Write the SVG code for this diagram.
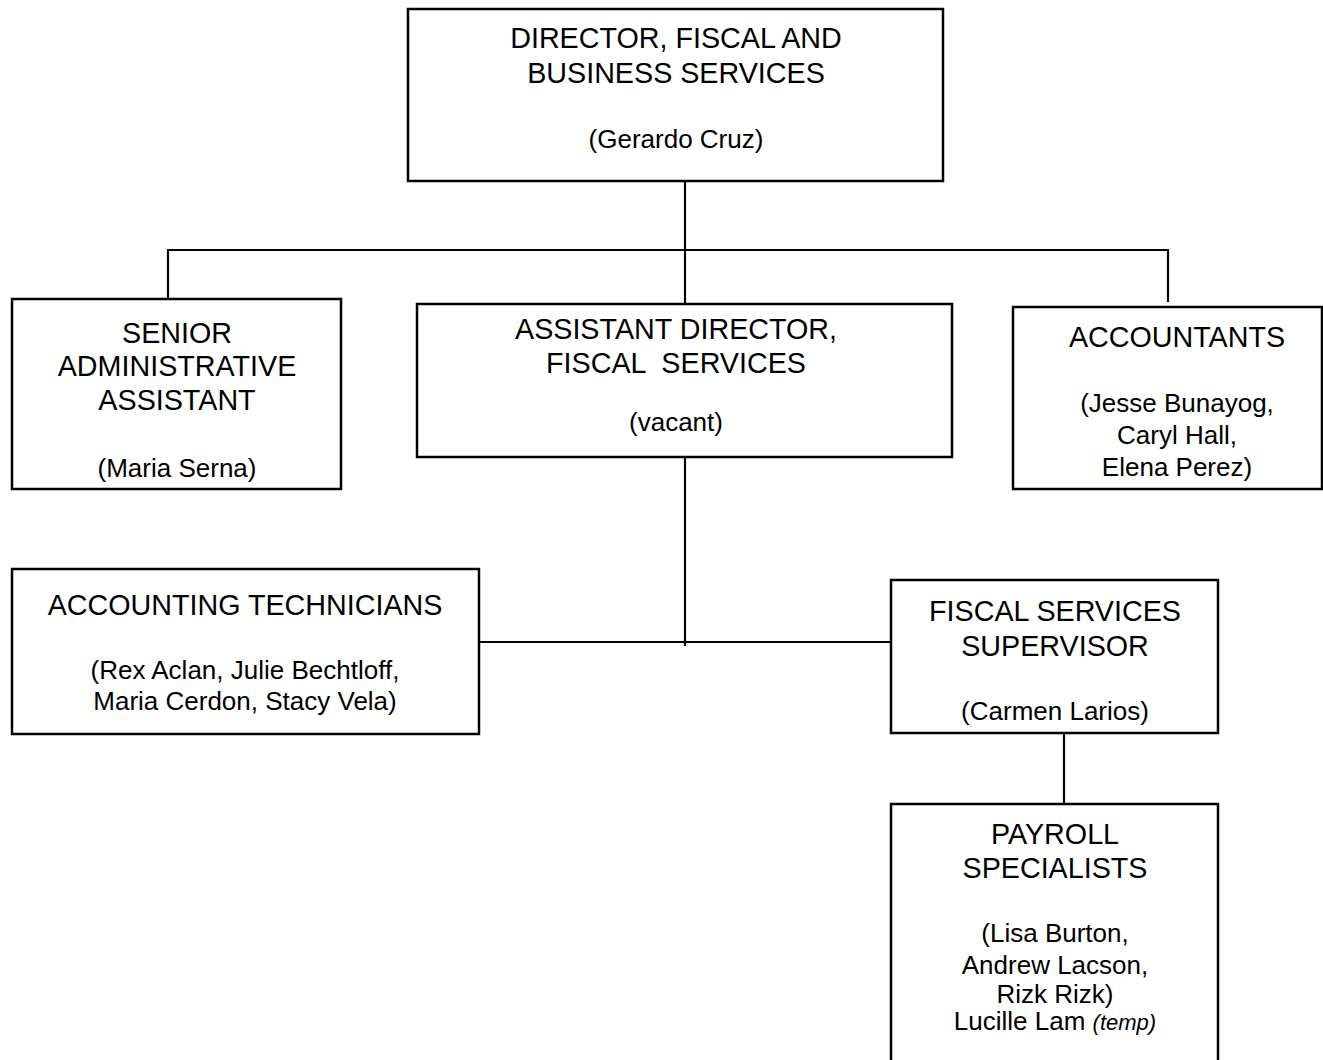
<svg xmlns="http://www.w3.org/2000/svg" width="1323" height="1060" viewBox="0 0 1323 1060">
<style>
.box{fill:#fff;stroke:#000;stroke-width:2.5}
.ln{stroke:#000;stroke-width:2.2;fill:none}
text{font-family:"Liberation Sans",Arial,sans-serif;fill:#000;text-anchor:middle}
.t{font-size:28.7px}
.n{font-size:26px}
.i{font-style:italic;font-size:22px}
</style>
<rect width="1323" height="1060" fill="#fff"/>
<g id="connectors">
<line class="ln" x1="685" y1="181" x2="685" y2="304"/>
<line class="ln" x1="167" y1="250" x2="1169" y2="250"/>
<line class="ln" x1="168" y1="250" x2="168" y2="299"/>
<line class="ln" x1="1168" y1="250" x2="1168" y2="302"/>
<line class="ln" x1="685" y1="457" x2="685" y2="646"/>
<line class="ln" x1="479" y1="642" x2="891" y2="642"/>
<line class="ln" x1="1064" y1="733" x2="1064" y2="804"/>
</g>
<g id="director">
<rect class="box" x="408" y="9" width="535" height="172"/>
<text class="t" x="676" y="48">DIRECTOR, FISCAL AND</text>
<text class="t" x="676" y="83">BUSINESS SERVICES</text>
<text class="n" x="676" y="148">(Gerardo Cruz)</text>
</g>
<g id="senior-admin">
<rect class="box" x="12" y="299" width="329" height="190"/>
<text class="t" x="177" y="343">SENIOR</text>
<text class="t" x="177" y="376">ADMINISTRATIVE</text>
<text class="t" x="177" y="410">ASSISTANT</text>
<text class="n" x="177" y="477">(Maria Serna)</text>
</g>
<g id="assistant-director">
<rect class="box" x="417" y="304" width="535" height="153"/>
<text class="t" x="676" y="339">ASSISTANT DIRECTOR,</text>
<text class="t" x="676" y="373" xml:space="preserve">FISCAL  SERVICES</text>
<text class="n" x="676" y="431">(vacant)</text>
</g>
<g id="accountants">
<rect class="box" x="1013" y="307" width="309" height="182"/>
<text class="t" x="1177" y="347">ACCOUNTANTS</text>
<text class="n" x="1177" y="412">(Jesse Bunayog,</text>
<text class="n" x="1177" y="444">Caryl Hall,</text>
<text class="n" x="1177" y="476">Elena Perez)</text>
</g>
<g id="accounting-technicians">
<rect class="box" x="12" y="569" width="467" height="165"/>
<text class="t" x="245" y="615">ACCOUNTING TECHNICIANS</text>
<text class="n" x="245" y="679">(Rex Aclan, Julie Bechtloff,</text>
<text class="n" x="245" y="710">Maria Cerdon, Stacy Vela)</text>
</g>
<g id="fiscal-supervisor">
<rect class="box" x="891" y="580" width="327" height="153"/>
<text class="t" x="1055" y="621">FISCAL SERVICES</text>
<text class="t" x="1055" y="656">SUPERVISOR</text>
<text class="n" x="1055" y="720">(Carmen Larios)</text>
</g>
<g id="payroll">
<rect class="box" x="891" y="804" width="327" height="270"/>
<text class="t" x="1055" y="844">PAYROLL</text>
<text class="t" x="1055" y="878">SPECIALISTS</text>
<text class="n" x="1055" y="942">(Lisa Burton,</text>
<text class="n" x="1055" y="974">Andrew Lacson,</text>
<text class="n" x="1055" y="1003">Rizk Rizk)</text>
<text class="n" x="1055" y="1030">Lucille Lam <tspan class="i">(temp)</tspan></text>
</g>
</svg>
